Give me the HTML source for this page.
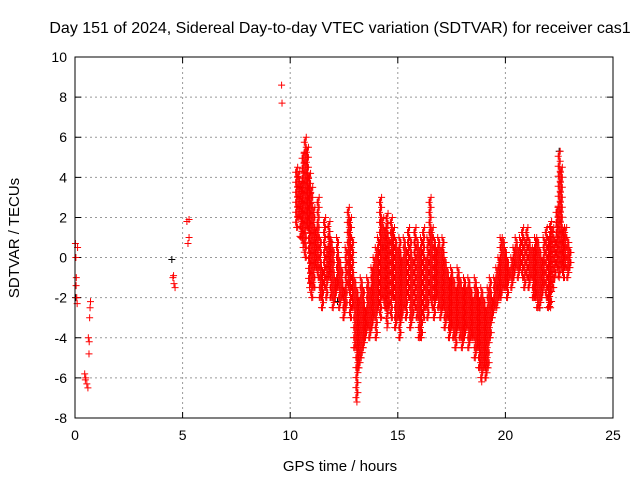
<!DOCTYPE html>
<html><head><meta charset="utf-8"><style>
body{margin:0;background:#fff;width:640px;height:480px;overflow:hidden}
svg{font-family:"Liberation Sans",sans-serif}
</style></head><body>
<svg id="chart" width="640" height="480" xmlns="http://www.w3.org/2000/svg">
<text x="340" y="33" font-size="16" text-anchor="middle">Day 151 of 2024, Sidereal Day-to-day VTEC variation (SDTVAR) for receiver cas1</text>
<text transform="translate(19,238) rotate(-90)" font-size="15" text-anchor="middle">SDTVAR / TECUs</text>
<text x="340" y="471" font-size="15" text-anchor="middle">GPS time / hours</text>
<g id="grid"></g><g id="ticks"></g><g id="marks"></g>
<rect x="75" y="57" width="538" height="361" fill="none" stroke="#000"/>
</svg>
<script>
const xTicks=[0,5,10,15,20,25];
const yTicks=[-8,-6,-4,-2,0,2,4,6,8,10];
const scatT=[0.02,0.04,0.06,0.08,0.1,0.12,0.05,0.45,0.5,0.55,0.6,0.48,0.62,0.65,0.68,0.7,0.72,0.66,4.55,4.6,4.65,4.58,5.2,5.3,5.25,5.3,9.6,9.62];
const scatV=[0.7,0.0,-1.0,-2.0,-2.3,0.5,-1.4,-5.8,-6.0,-6.3,-6.5,-6.1,-4.0,-4.8,-3.0,-2.5,-2.2,-4.2,-1.0,-1.3,-1.5,-0.9,1.8,1.9,0.7,1.0,8.6,7.7];
const blackT=[0.03,4.5,10.5,12.2,14.3,19.6,21.6,22.5];
const blackV=[-2.0,-0.1,3.5,-2.2,0.5,-1.5,-2.5,5.3];
const bandT0=10.3, bandStep=0.1;
const bandHi=[4.5,4.3,3.8,5.2,6.0,5.5,4.2,
3.5,2.5,1.5,3.0,1.0,-0.5,2.0,0.5,1.8,1.0,
0.5,-1.0,1.0,0.0,-0.5,-1.5,0.5,2.5,2.0,1.0,
-1.0,-1.5,-2.0,-1.0,-1.5,-2.5,-1.0,-1.5,-0.5,0.0,
0.5,1.0,3.0,2.0,1.5,2.2,1.0,2.0,1.5,1.0,
0.5,1.0,0.0,1.0,0.5,1.5,1.0,0.0,1.5,1.0,
0.5,1.0,1.5,0.0,1.0,3.0,1.5,1.0,0.5,1.0,
0.5,1.0,0.0,-0.5,-1.0,-0.5,-1.0,-1.5,-0.5,-1.0,
-1.5,-1.0,-1.5,-1.0,-1.5,-2.0,-1.0,-1.5,-2.0,-1.5,
-2.0,-2.5,-1.5,-1.0,-2.0,-1.0,-0.5,0.0,1.0,1.0,
0.5,0.0,-0.5,0.0,0.5,1.0,0.5,1.0,1.5,1.0,
1.5,1.0,0.5,0.5,1.0,1.0,0.5,0.0,1.0,1.5,
1.0,1.8,1.5,1.0,2.5,5.3,4.5,1.5,1.5,1.0,0.5];
const bandLo=[1.5,2.0,1.0,0.5,0.0,1.5,-1.5,
-2.0,-1.5,-0.5,-1.0,-2.0,-2.5,-1.5,-2.0,-1.0,-2.0,
-2.5,-2.0,-1.5,-2.5,-2.0,-3.0,-2.5,-1.5,-3.0,-2.5,
-4.5,-7.2,-5.5,-5.0,-4.5,-4.0,-3.5,-4.0,-3.5,-3.0,
-4.0,-2.5,-3.0,-2.0,-2.5,-3.5,-2.5,-3.0,-2.0,-3.5,
-3.0,-4.0,-3.0,-2.5,-3.0,-2.0,-3.5,-3.0,-2.5,-3.0,
-4.0,-4.0,-3.0,-2.5,-3.0,-2.0,-2.5,-3.0,-2.0,-2.5,
-3.0,-2.5,-3.5,-3.0,-4.0,-3.5,-4.0,-4.5,-3.5,-4.0,
-4.5,-4.0,-3.5,-4.5,-4.0,-4.0,-5.0,-4.5,-5.5,-6.2,
-5.5,-6.0,-5.5,-4.0,-3.0,-2.5,-2.5,-2.0,-2.0,-1.5,
-1.5,-2.0,-1.0,-1.5,-1.0,-0.5,-1.0,-0.5,-1.0,-1.5,
-1.0,-1.5,-1.0,-2.0,-2.0,-2.5,-2.5,-2.0,-1.5,-2.0,
-2.5,-2.5,-1.5,-1.0,-0.5,-1.0,-0.5,-1.0,-0.5,-1.0,-0.5];
const X0=75,X1=613,Y0=418,Y1=57;
const xs=t=>X0+(t-0)/(25-0)*(X1-X0);
const ys=v=>Y0-(v+8)/(18)*(Y0-Y1);
const NS="http://www.w3.org/2000/svg";
function mk(tag,attrs,parent){const e=document.createElementNS(NS,tag);for(const k in attrs)e.setAttribute(k,attrs[k]);parent.appendChild(e);return e;}
const grid=document.getElementById('grid'),ticks=document.getElementById('ticks'),marks=document.getElementById('marks');
xTicks.forEach(t=>{const x=xs(t);
 if(t>0&&t<25){const g=mk('line',{x1:x,x2:x,y1:Y1,y2:Y0,stroke:'#999','stroke-dasharray':'2,3','stroke-width':1},grid);
 
 }
 const tk=mk('path',{d:`M${x},${Y0}v-6M${x},${Y1}v6`,stroke:'#000'},ticks);
 
 
 const l=mk('text',{x:x,y:Y0+22,'font-size':14,'text-anchor':'middle'},ticks);l.textContent=t;
 
 });
yTicks.forEach(v=>{const y=ys(v);
 if(v>-8&&v<10){const g=mk('line',{x1:X0,x2:X1,y1:y,y2:y,stroke:'#999','stroke-dasharray':'2,3','stroke-width':1},grid);
 
 }
 const tk=mk('path',{d:`M${X0},${y}h6M${X1},${y}h-6`,stroke:'#000'},ticks);
 
 
 const l=mk('text',{x:X0-8,y:y+5,'font-size':14,'text-anchor':'end'},ticks);l.textContent=v;
 
 });
function plus(x,y,c,name){const p=mk('path',{d:`M${x-3.5},${y}h7M${x},${y-3.5}v7`,stroke:c,'stroke-width':1},marks);
 
 }
blackT.forEach((t,i)=>plus(xs(t),ys(blackV[i]),'#000','black-point'));
scatT.forEach((t,i)=>plus(xs(t),ys(scatV[i]),'#f00','sdtvar-point'));
bandHi.forEach((h,i)=>{const t=bandT0+i*bandStep,x=xs(t),yh=ys(h),yl=ys(bandLo[i]);
 const ln=mk('line',{x1:x,x2:x,y1:yh,y2:yl,stroke:'#f00','stroke-width':1.2},marks);
 
 
 for(let y=yh;y<=yl;y+=5)plus(x+((Math.round(y)%2)?1:-1),y,'#f00','sdtvar-point');
 plus(x,yl,'#f00','sdtvar-point');});
</script>
</body></html>
